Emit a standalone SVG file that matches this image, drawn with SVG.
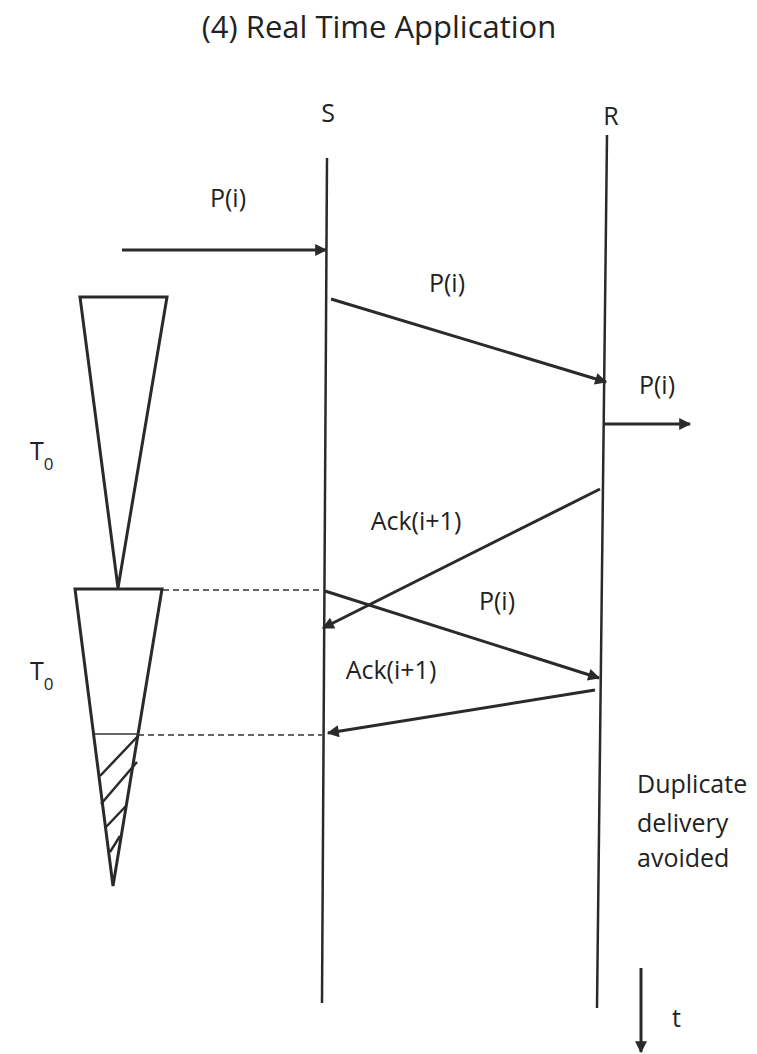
<svg xmlns="http://www.w3.org/2000/svg" width="757" height="1054" viewBox="0 0 757 1054">
<style>
text{font-family:"Open Sans","Liberation Sans",sans-serif;fill:#222}
.lbl{font-size:25px}
.ln{stroke:#2a2a2a;stroke-width:2.5;fill:none}
.arr{stroke:#2a2a2a;stroke-width:3;fill:none;marker-end:url(#ah)}
.dash{stroke:#333;stroke-width:1.5;stroke-dasharray:6,4;fill:none}
.tri{stroke:#2a2a2a;stroke-width:3;fill:none;stroke-linejoin:miter}
.sub{font-size:17px}
</style>
<defs>
<marker id="ah" viewBox="0 0 10 10" refX="9" refY="5" markerWidth="4.5" markerHeight="4" orient="auto" markerUnits="strokeWidth">
<path d="M0,0 L10,5 L0,10 z" fill="#2a2a2a"/>
</marker>
</defs>
<rect width="757" height="1054" fill="#fff"/>
<text x="379" y="38" text-anchor="middle" style="font-size:31px">(4) Real Time Application</text>
<g id="S">
<text class="lbl" x="328" y="122" text-anchor="middle">S</text>
<line class="ln" x1="327" y1="158" x2="322" y2="1003"/>
</g>
<g id="R">
<text class="lbl" x="611" y="125" text-anchor="middle">R</text>
<line class="ln" x1="607" y1="135" x2="597" y2="1008"/>
</g>
<g id="timer1">
<polygon class="tri" points="80,297 167,297 118,588"/>
<text class="lbl" x="30" y="460">T<tspan class="sub" dy="10">0</tspan></text>
</g>
<g id="timer2">
<polygon class="tri" points="75,589 162,589 113,886"/>
<line x1="95" y1="734" x2="138" y2="734" stroke="#333" stroke-width="1.5"/>
<g stroke="#2a2a2a" stroke-width="2.5">
<line x1="138" y1="736" x2="100" y2="776"/>
<line x1="137" y1="762" x2="101" y2="804"/>
<line x1="126" y1="806" x2="106" y2="827"/>
<line x1="120" y1="836" x2="110" y2="852"/>
</g>
<text class="lbl" x="30" y="680">T<tspan class="sub" dy="10">0</tspan></text>
</g>
<g id="connectors">
<line class="arr" x1="122" y1="250" x2="326" y2="250"/>
<line class="arr" x1="331" y1="299" x2="606" y2="382"/>
<line class="arr" x1="604" y1="424" x2="690" y2="424"/>
<line class="arr" x1="600" y1="489" x2="323" y2="628"/>
<line class="dash" x1="163" y1="590" x2="322" y2="590"/>
<line class="arr" x1="325" y1="591" x2="599" y2="678"/>
<line class="arr" x1="595" y1="690" x2="328" y2="733"/>
<line class="dash" x1="138" y1="735" x2="322" y2="735"/>
<line class="arr" x1="641" y1="968" x2="641" y2="1052"/>
</g>
<g id="labels">
<text class="lbl" x="228" y="207" text-anchor="middle">P(i)</text>
<text class="lbl" x="447" y="292" text-anchor="middle">P(i)</text>
<text class="lbl" x="657" y="394" text-anchor="middle">P(i)</text>
<text class="lbl" x="416" y="530" text-anchor="middle">Ack(i+1)</text>
<text class="lbl" x="497" y="610" text-anchor="middle">P(i)</text>
<text class="lbl" x="391" y="679" text-anchor="middle">Ack(i+1)</text>
<text class="lbl" x="637" y="793">Duplicate</text>
<text class="lbl" x="637" y="832">delivery</text>
<text class="lbl" x="637" y="867">avoided</text>
<text class="lbl" x="672" y="1027">t</text>
</g>
</svg>
